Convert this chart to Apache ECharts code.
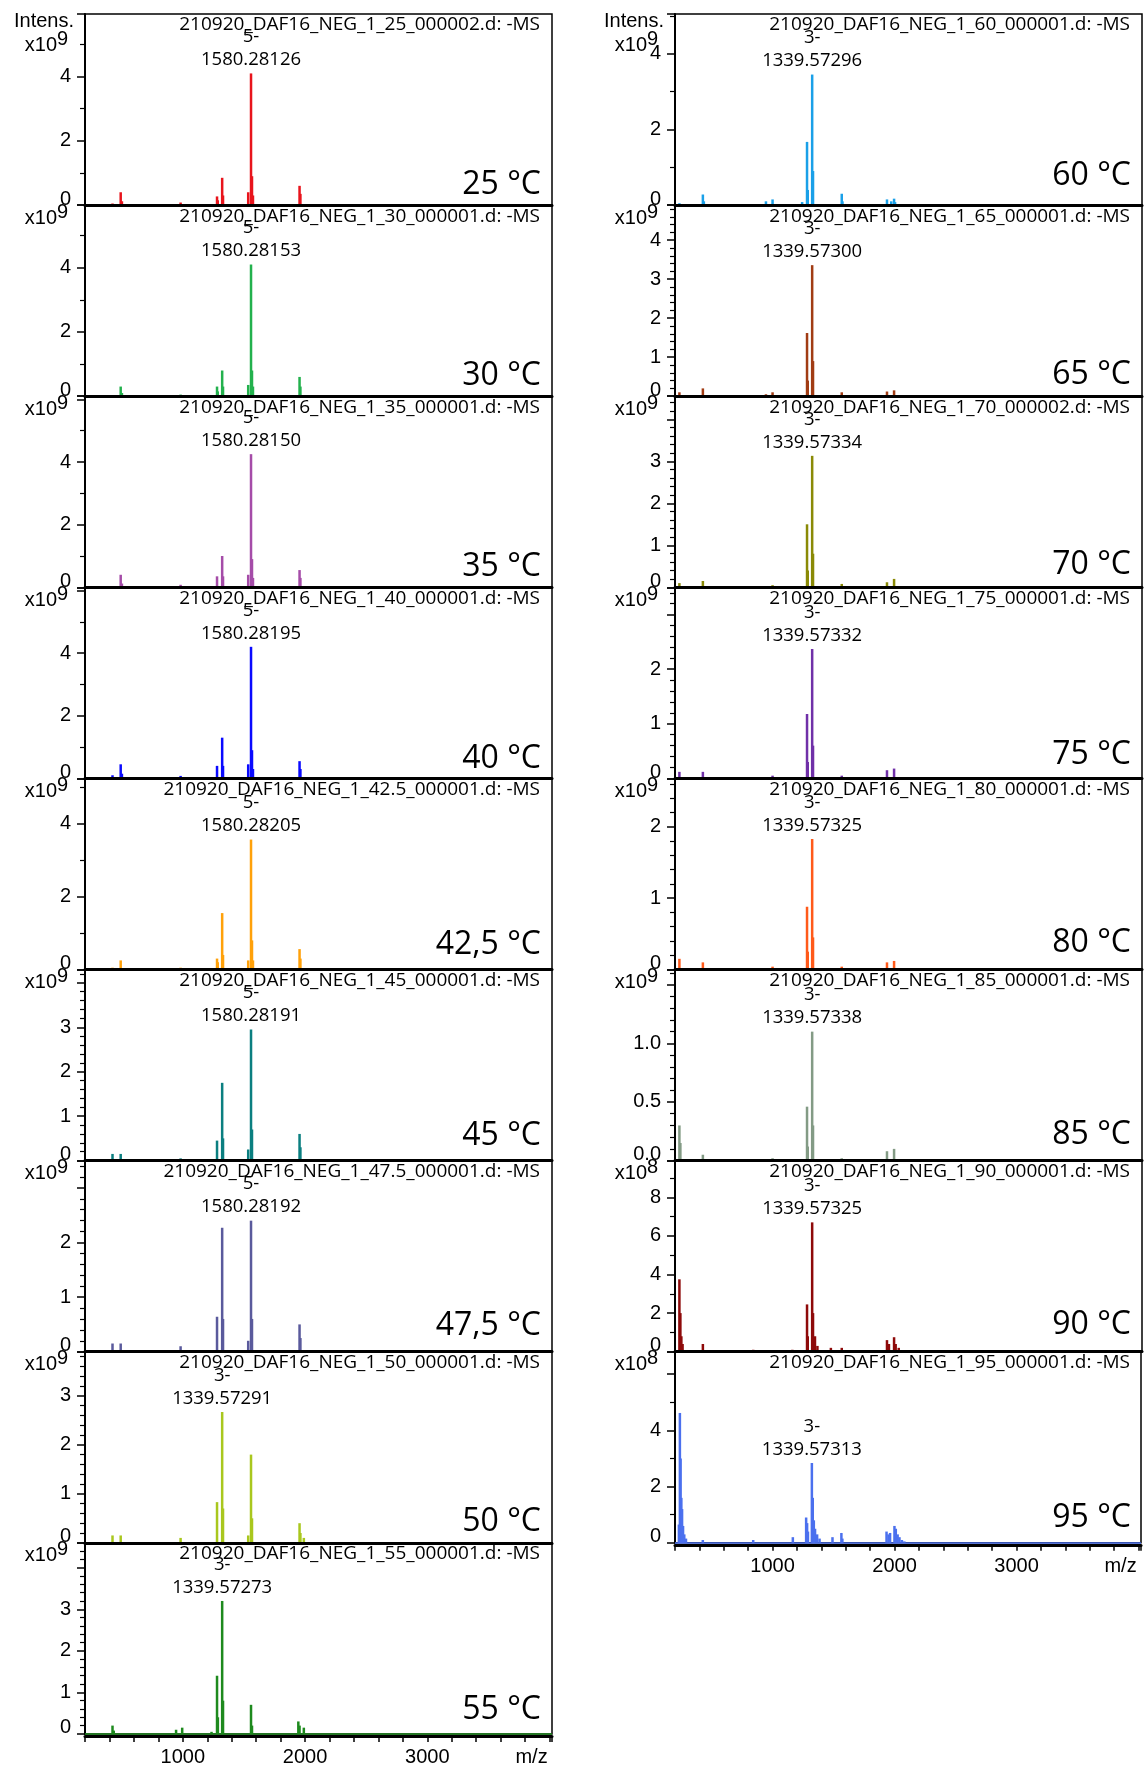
<!DOCTYPE html>
<html>
<head>
<meta charset="utf-8">
<title>DAF16 NEG MS temperature series</title>
<script src="https://cdn.jsdelivr.net/npm/echarts@6/dist/echarts.min.js"></script>
<style>
html, body { margin: 0; padding: 0; background: #fff; }
#chart { width: 1144px; height: 1769px; }
</style>
</head>
<body>
<div id="chart"></div>
<script>
// panel captions
var temps = ['25 °C', '30 °C', '35 °C', '40 °C', '42,5 °C', '45 °C', '47,5 °C', '50 °C', '55 °C',
  '60 °C', '65 °C', '70 °C', '75 °C', '80 °C', '85 °C', '90 °C', '95 °C'];
var files = ['25_000002', '30_000001', '35_000001', '40_000001', '42.5_000001', '45_000001', '47.5_000001',
  '50_000001', '55_000001', '60_000001', '65_000001', '70_000002', '75_000001', '80_000001', '85_000001',
  '90_000001', '95_000001'];
var colors = ['#e8141c', '#23b14d', '#a54ca8', '#0a0aff', '#ffa10a', '#0b7f80', '#5a5a9c', '#a9c71e', '#1e8a1e',
  '#1aa0e8', '#a13c14', '#8a8a06', '#7030a8', '#ff5a1a', '#839b85', '#8e0a0a', '#4b70ee'];

// annotated peak per panel (position as plotted)
var labelMz = [1558, 1558, 1558, 1558, 1558, 1558, 1558, 1322, 1322,
  1322, 1322, 1322, 1322, 1322, 1322, 1322, 1322];
var labelText = ['5-\n1580.28126', '5-\n1580.28153', '5-\n1580.28150', '5-\n1580.28195', '5-\n1580.28205',
  '5-\n1580.28191', '5-\n1580.28192', '3-\n1339.57291', '3-\n1339.57273', '3-\n1339.57296', '3-\n1339.57300',
  '3-\n1339.57334', '3-\n1339.57332', '3-\n1339.57325', '3-\n1339.57338', '3-\n1339.57325', '3-\n1339.57313'];

// y axes: max, label step, minor split, shown labels, exponent
var yMax = [5.95, 5.95, 6.1, 6.1, 5.25, 4.3, 3.5, 3.9, 4.6, 5.05, 4.9, 4.55, 3.5, 2.68, 1.63, 9.9, 6.8];
var yStep = [2, 2, 2, 2, 2, 1, 1, 1, 1, 2, 1, 1, 1, 1, 0.5, 2, 2];
var yMinor = [2, 2, 2, 2, 2, 5, 5, 5, 5, 2, 5, 5, 5, 5, 5, 2, 2];
var yLabels = [['0', '2', '4'], ['0', '2', '4'], ['0', '2', '4'], ['0', '2', '4'], ['0', '2', '4'],
  ['0', '1', '2', '3'], ['0', '1', '2'], ['0', '1', '2', '3'], ['0', '1', '2', '3'],
  ['0', '2', '4'], ['0', '1', '2', '3', '4'], ['0', '1', '2', '3'], ['0', '1', '2'], ['0', '1', '2'],
  ['0.0', '0.5', '1.0'], ['0', '2', '4', '6', '8'], ['0', '2', '4']];
var yExp = [9, 9, 9, 9, 9, 9, 9, 9, 9, 9, 9, 9, 9, 9, 9, 8, 8];
var xLabels = ['1000', '2000', '3000'];

// spectra [m/z, intensity]
var s25 = [[425, 0.05], [492, 0.4], [502, 0.12], [982, 0.08], [1280, 0.27], [1286, 0.15], [1322, 0.85], [1329, 0.3],
  [1535, 0.4], [1558, 4.1], [1566, 0.9], [1574, 0.3], [1955, 0.6], [1962, 0.35]];
var s30 = [[492, 0.3], [502, 0.1], [982, 0.05], [1280, 0.3], [1286, 0.15], [1322, 0.8], [1329, 0.3],
  [1535, 0.35], [1558, 4.1], [1566, 0.8], [1574, 0.3], [1955, 0.6], [1962, 0.3]];
var s35 = [[492, 0.4], [502, 0.12], [982, 0.08], [1280, 0.35], [1322, 1.0], [1329, 0.35],
  [1535, 0.4], [1558, 4.25], [1566, 0.9], [1574, 0.3], [1955, 0.55], [1962, 0.3]];
var s40 = [[425, 0.1], [492, 0.45], [502, 0.15], [982, 0.08], [1280, 0.4], [1322, 1.3], [1329, 0.4],
  [1535, 0.45], [1558, 4.2], [1566, 0.9], [1574, 0.3], [1955, 0.55], [1962, 0.3]];
var s42 = [[425, 0.05], [492, 0.25], [982, 0.05], [1280, 0.3], [1286, 0.2], [1322, 1.55], [1329, 0.4],
  [1535, 0.25], [1558, 3.57], [1566, 0.8], [1574, 0.25], [1955, 0.56], [1962, 0.3]];
var s45 = [[425, 0.15], [492, 0.15], [982, 0.05], [1280, 0.45], [1322, 1.75], [1329, 0.5],
  [1535, 0.25], [1558, 2.95], [1566, 0.7], [1955, 0.6], [1962, 0.3]];
var s47 = [[425, 0.15], [492, 0.15], [982, 0.1], [1280, 0.64], [1322, 2.27], [1329, 0.6],
  [1535, 0.2], [1558, 2.4], [1566, 0.6], [1955, 0.5], [1962, 0.25]];
var s50 = [[425, 0.15], [492, 0.15], [982, 0.1], [1280, 0.83], [1322, 2.67], [1329, 0.7],
  [1535, 0.15], [1558, 1.8], [1566, 0.5], [1955, 0.4], [1962, 0.2], [1990, 0.1]];
var s55 = [[425, 0.2], [435, 0.08], [945, 0.1], [995, 0.15], [1235, 0.05], [1280, 1.4], [1287, 0.4],
  [1322, 3.2], [1329, 0.8], [1558, 0.7], [1566, 0.2], [1945, 0.3], [1955, 0.2], [1990, 0.15]];
var s60 = [[236, 0.05], [428, 0.28], [436, 0.1], [944, 0.1], [998, 0.15], [1240, 0.08], [1280, 1.67], [1286, 0.4],
  [1322, 3.45], [1329, 0.9], [1564, 0.3], [1570, 0.1], [1934, 0.15], [1969, 0.1], [1992, 0.17], [2000, 0.08]];
var s65 = [[236, 0.1], [428, 0.2], [944, 0.05], [998, 0.1], [1280, 1.62], [1286, 0.4], [1322, 3.36],
  [1329, 0.9], [1564, 0.1], [1934, 0.12], [1992, 0.15]];
var s70 = [[236, 0.1], [428, 0.15], [998, 0.05], [1280, 1.5], [1286, 0.4], [1322, 3.13], [1329, 0.8],
  [1564, 0.08], [1934, 0.12], [1992, 0.2]];
var s75 = [[236, 0.12], [428, 0.12], [998, 0.05], [1280, 1.18], [1286, 0.3], [1322, 2.37], [1329, 0.6],
  [1564, 0.05], [1934, 0.15], [1992, 0.18]];
var s80 = [[236, 0.15], [428, 0.1], [998, 0.04], [1280, 0.88], [1286, 0.25], [1322, 1.83], [1329, 0.45],
  [1564, 0.04], [1934, 0.1], [1992, 0.12]];
var s85 = [[236, 0.3], [244, 0.15], [428, 0.05], [998, 0.02], [1280, 0.46], [1286, 0.12], [1322, 1.1],
  [1329, 0.3], [1564, 0.02], [1934, 0.08], [1992, 0.1]];
var s90 = [[236, 3.75], [244, 2.0], [252, 0.8], [262, 0.4], [428, 0.4], [840, 0.1], [1160, 0.1], [1280, 2.45],
  [1286, 0.8], [1322, 6.7], [1329, 2.0], [1345, 0.8], [1365, 0.3], [1475, 0.2], [1564, 0.2], [1934, 0.6],
  [1950, 0.4], [1992, 0.75], [2005, 0.4], [2030, 0.2]];
var s95 = [[232, 0.65], [240, 4.62], [246, 3.0], [252, 1.6], [258, 1.2], [266, 0.6], [276, 0.3], [290, 0.15],
  [428, 0.1], [841, 0.1], [1166, 0.2], [1275, 0.9], [1283, 0.7], [1290, 0.4], [1322, 2.84], [1329, 1.6],
  [1338, 0.8], [1348, 0.5], [1365, 0.3], [1385, 0.15], [1491, 0.2], [1564, 0.35], [1572, 0.15], [1934, 0.4],
  [1950, 0.3], [1963, 0.35], [1999, 0.6], [2010, 0.5], [2025, 0.3], [2040, 0.2], [2060, 0.1], [2080, 0.05]];

var spectra = [s25, s30, s35, s40, s42, s45, s47, s50, s55, s60, s65, s70, s75, s80, s85, s90, s95];

// layout
var AXIS_X = [85, 675], PLOT_W = 467, TOP = 14, PH = 191.1;
var tempDy = [7, 7, 7, 7, 2, 2, 1, 6, 3, -2, 6, 5, 3, 0, 1, 0, 2];
var SANS = '"Liberation Sans", Arial, sans-serif';
var UI = '"Open Sans", "Noto Sans", sans-serif';

var chart = echarts.init(document.getElementById('chart'));
var grids = [], xAxes = [], yAxes = [], series = [], graphics = [];

var labelFor = function(i, v) {
  var list = yLabels[i];
  for (var k = 0; k < list.length; k++) {
    if (Math.abs(parseFloat(list[k]) - v) < 1e-6) return list[k];
  }
  return '';
};

spectra.forEach(function(data, i) {
  var col = i < 9 ? 0 : 1;
  var row = col ? i - 9 : i;
  var last = (i === 8 || i === 16);
  var left = AXIS_X[col], top = TOP + row * PH;

  grids.push({
    left: left, top: top, width: PLOT_W, height: PH,
    show: true, borderColor: '#000', borderWidth: 1.5, backgroundColor: 'transparent'
  });

  xAxes.push({
    gridIndex: i, type: 'value', min: 200, max: 4020, interval: 200, z: 3,
    offset: last ? 2 : 0,
    axisLine: { show: true, onZero: false, lineStyle: { color: '#000', width: 3 } },
    axisTick: { show: last, length: 6, lineStyle: { color: '#000', width: 1.5 } },
    splitLine: { show: false },
    axisLabel: {
      show: last, margin: 12, color: '#000', fontSize: 20, fontFamily: SANS,
      formatter: function(v) {
        if (v === 4000) return '{m|m/z}';
        return xLabels.indexOf(String(v)) >= 0 ? String(v) : '';
      },
      rich: { m: { fontSize: 20, fontFamily: SANS, color: '#000', padding: [0, 36, 0, 0] } }
    }
  });

  yAxes.push({
    gridIndex: i, type: 'value', min: 0, max: yMax[i], interval: yStep[i],
    axisLine: { show: true, lineStyle: { color: '#000', width: 2 } },
    axisTick: { show: true, length: 8, lineStyle: { color: '#000', width: 1.5 } },
    minorTick: { show: true, splitNumber: yMinor[i], length: 5, lineStyle: { color: '#000', width: 1.2 } },
    splitLine: { show: false },
    axisLabel: {
      margin: 14, color: '#000', fontSize: 20, fontFamily: SANS,
      formatter: function(v) {
        var s = labelFor(i, v);
        if (s === '') return '';
        return v === 0 ? '{z|' + s + '}' : s;
      },
      rich: { z: { fontSize: 20, fontFamily: SANS, color: '#000', padding: [0, 0, 12, 0] } }
    }
  });

  var items = data.map(function(p) {
    if (p[0] === labelMz[i]) {
      return {
        value: p,
        label: {
          show: true, position: 'top', distance: 2, formatter: labelText[i],
          fontFamily: UI, fontSize: 18.5, lineHeight: 23, color: '#000'
        }
      };
    }
    return p;
  });

  var s = {
    type: 'bar', xAxisIndex: i, yAxisIndex: i, data: items, barWidth: 2.5,
    itemStyle: { color: colors[i] }, silent: true
  };
  if (last) {
    s.markLine = {
      silent: true, symbol: 'none', label: { show: false },
      lineStyle: { color: colors[i], width: 1.5, type: 'solid' },
      data: [{ yAxis: 0 }]
    };
  }
  series.push(s);

  // file name
  graphics.push({
    type: 'text', x: left + PLOT_W - 12, y: top + 11, z: 10,
    style: { text: '210920_DAF16_NEG_1_' + files[i] + '.d: -MS', font: '19px ' + UI, fill: '#000', align: 'right', verticalAlign: 'middle' }
  });
  // temperature
  graphics.push({
    type: 'text', x: left + PLOT_W - 11, y: top + PH - 27 + tempDy[i], z: 10,
    style: { text: temps[i], font: '32px ' + UI, fill: '#000', align: 'right', verticalAlign: 'middle' }
  });
  // exponent label
  var ey = row === 0 ? top + 31 : top + 13;
  graphics.push({
    type: 'text', x: left - 28, y: ey, z: 10,
    style: { text: 'x10', font: '20px ' + SANS, fill: '#000', align: 'right', verticalAlign: 'middle' }
  });
  graphics.push({
    type: 'text', x: left - 17, y: ey - 6, z: 10,
    style: { text: String(yExp[i]), font: '20px ' + SANS, fill: '#000', align: 'right', verticalAlign: 'middle' }
  });
  if (row === 0) {
    graphics.push({
      type: 'text', x: left - 11, y: top + 7, z: 10,
      style: { text: 'Intens.', font: '20px ' + SANS, fill: '#000', align: 'right', verticalAlign: 'middle' }
    });
  }
});

chart.setOption({
  animation: false,
  backgroundColor: '#fff',
  grid: grids,
  xAxis: xAxes,
  yAxis: yAxes,
  series: series,
  graphic: graphics
});
</script>
</body>
</html>
